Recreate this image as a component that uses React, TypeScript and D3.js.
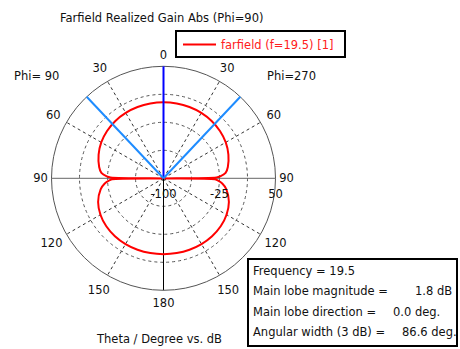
import React from 'react';
import * as d3 from 'd3';

// ---- data ----
const thetaDeg = [0, 10, 20, 30, 40, 50, 60, 70, 80, 85, 88, 89, 90, 91, 92, 95, 100, 110, 120, 130, 140, 150, 160, 170, 180];
const gainDb = [1.8, 1.75, 1.6, 1.2, 0.3, -1.3, -3.7, -7.5, -12.5, -16.5, -24, -29, -100, -31, -28, -21, -14.5, -6.8, -2.5, 0.0, 1.2, 1.7, 1.8, 1.7, 1.6];
const ringValues = [-62.5, -25, 12.5, 50];
const radialLabelValues = [-100, -25, 50];
const angleTicks = [0, 30, 60, 90, 120, 150, 180];
const gridAngles = [30, 60, 120, 150];
const frequency = 19.5;
const mainLobeMagnitude = 1.8;
const mainLobeDirection = 0.0;
const angularWidth = 86.6;
const titleText = 'Farfield Realized Gain Abs (Phi=90)';
const legendText = 'farfield (f=19.5) [1]';
const axisText = 'Theta / Degree vs. dB';

const W = 460;
const H = 349;
const cx = 163.5;
const cy = 178.3;
const R = 112;
const FONT = '"DejaVu Sans", sans-serif';
const FS = 11.5;

const rScale = d3.scaleLinear().domain([-100, 50]).range([0, R]).clamp(true);

function pt(theta: number, side: number, rad: number): [number, number] {
  const a = (theta * Math.PI) / 180;
  return [cx + side * rad * Math.sin(a), cy - rad * Math.cos(a)];
}

export default function App() {
  // build closed pattern: left side (Phi=90) 0->180, right side (Phi=270) 180->0
  const pts: [number, number][] = [];
  thetaDeg.forEach((t, i) => pts.push(pt(t, -1, rScale(gainDb[i]))));
  for (let i = thetaDeg.length - 2; i >= 1; i--) pts.push(pt(thetaDeg[i], 1, rScale(gainDb[i])));
  const line = d3.line().curve(d3.curveCatmullRomClosed.alpha(0.5));
  const patternPath = line(pts) || '';

  const labelR = (t: number) => 123 + 5 * Math.abs(Math.sin((2 * t * Math.PI) / 180)) + (t > 90 ? 2 : 0);

  const halfW = angularWidth / 2;
  const topPt = pt(mainLobeDirection, 1, R);
  const bl1 = pt(mainLobeDirection - halfW, 1, R);
  const bl2 = pt(mainLobeDirection + halfW, 1, R);
  const botPt = pt(180, 1, R);

  const infoRows: { label: string; value: string; vx: number }[] = [
    { label: `Frequency = ${frequency}`, value: '', vx: 0 },
    { label: 'Main lobe magnitude =', value: `${mainLobeMagnitude.toFixed(1)} dB`, vx: 415 },
    { label: 'Main lobe direction =', value: `${mainLobeDirection.toFixed(1)} deg.`, vx: 393 },
    { label: 'Angular width (3 dB) =', value: `${angularWidth.toFixed(1)} deg.`, vx: 402 },
  ];

  return (
    <svg width={W} height={H} style={{ position: 'absolute', left: 0, top: 0, background: '#fff' }} fontFamily={FONT} fontSize={FS}>
      <rect x={0} y={0} width={W} height={H} fill="#fff" />
      <text x={60} y={22} fill="#111">{titleText}</text>

      {/* rings */}
      {ringValues.slice(0, -1).map((v) => (
        <circle key={v} cx={cx} cy={cy} r={rScale(v)} fill="none" stroke="#555" strokeDasharray="3,3" strokeWidth={1} />
      ))}
      {/* radial dashed grid */}
      {gridAngles.map((a) =>
        [-1, 1].map((s) => {
          const p = pt(a, s, R);
          return <line key={`${a}-${s}`} x1={cx} y1={cy} x2={p[0]} y2={p[1]} stroke="#333" strokeDasharray="3,3" strokeWidth={1} />;
        })
      )}
      {/* horizontal axis */}
      <line x1={cx - R} y1={cy} x2={cx + R} y2={cy} stroke="#666" strokeWidth={1} />
      {/* lower vertical */}
      <line x1={cx} y1={cy} x2={botPt[0]} y2={botPt[1]} stroke="#000" strokeWidth={1} />
      {/* outer circle */}
      <circle cx={cx} cy={cy} r={R} fill="none" stroke="#555" strokeWidth={1} />

      {/* pattern */}
      <path d={patternPath} fill="none" stroke="#ff0000" strokeWidth={2} strokeLinejoin="round" />

      {/* main lobe & 3 dB lines */}
      <line x1={cx} y1={cy} x2={topPt[0]} y2={topPt[1]} stroke="#0000ff" strokeWidth={2} />
      <line x1={cx} y1={cy} x2={bl1[0]} y2={bl1[1]} stroke="#1e8cff" strokeWidth={2} />
      <line x1={cx} y1={cy} x2={bl2[0]} y2={bl2[1]} stroke="#1e8cff" strokeWidth={2} />

      {/* angle labels */}
      {angleTicks.map((t) =>
        (t === 0 || t === 180 ? [1] : [-1, 1]).map((s) => {
          const p = pt(t, s, labelR(t));
          return (
            <text key={`${t}-${s}`} x={p[0]} y={p[1]} textAnchor="middle" dominantBaseline="central" fill="#111">
              {t}
            </text>
          );
        })
      )}
      {/* radial labels */}
      {radialLabelValues.map((v) => (
        <text key={v} x={cx + rScale(v)} y={cy + 16} textAnchor="middle" dominantBaseline="central" fill="#111">
          {v}
        </text>
      ))}

      <text x={14} y={80} fill="#111">Phi= 90</text>
      <text x={267} y={80} fill="#111">Phi=270</text>

      {/* legend */}
      <rect x={176} y={31} width={169} height={26} fill="#fff" stroke="#000" strokeWidth={2} />
      <line x1={183} y1={44.5} x2={216} y2={44.5} stroke="#ff0000" strokeWidth={2} />
      <text x={221} y={49} fill="#ff2020">{legendText}</text>

      {/* info box */}
      <rect x={248} y={259} width={209} height={87} fill="#fff" stroke="#000" strokeWidth={2} />
      {infoRows.map((row, i) => (
        <g key={i}>
          <text x={253} y={275 + i * 20.4} fill="#111">{row.label}</text>
          {row.value && (
            <text x={row.vx} y={275 + i * 20.4} fill="#111">{row.value}</text>
          )}
        </g>
      ))}

      <text x={97} y={343} fill="#111">{axisText}</text>
    </svg>
  );
}
